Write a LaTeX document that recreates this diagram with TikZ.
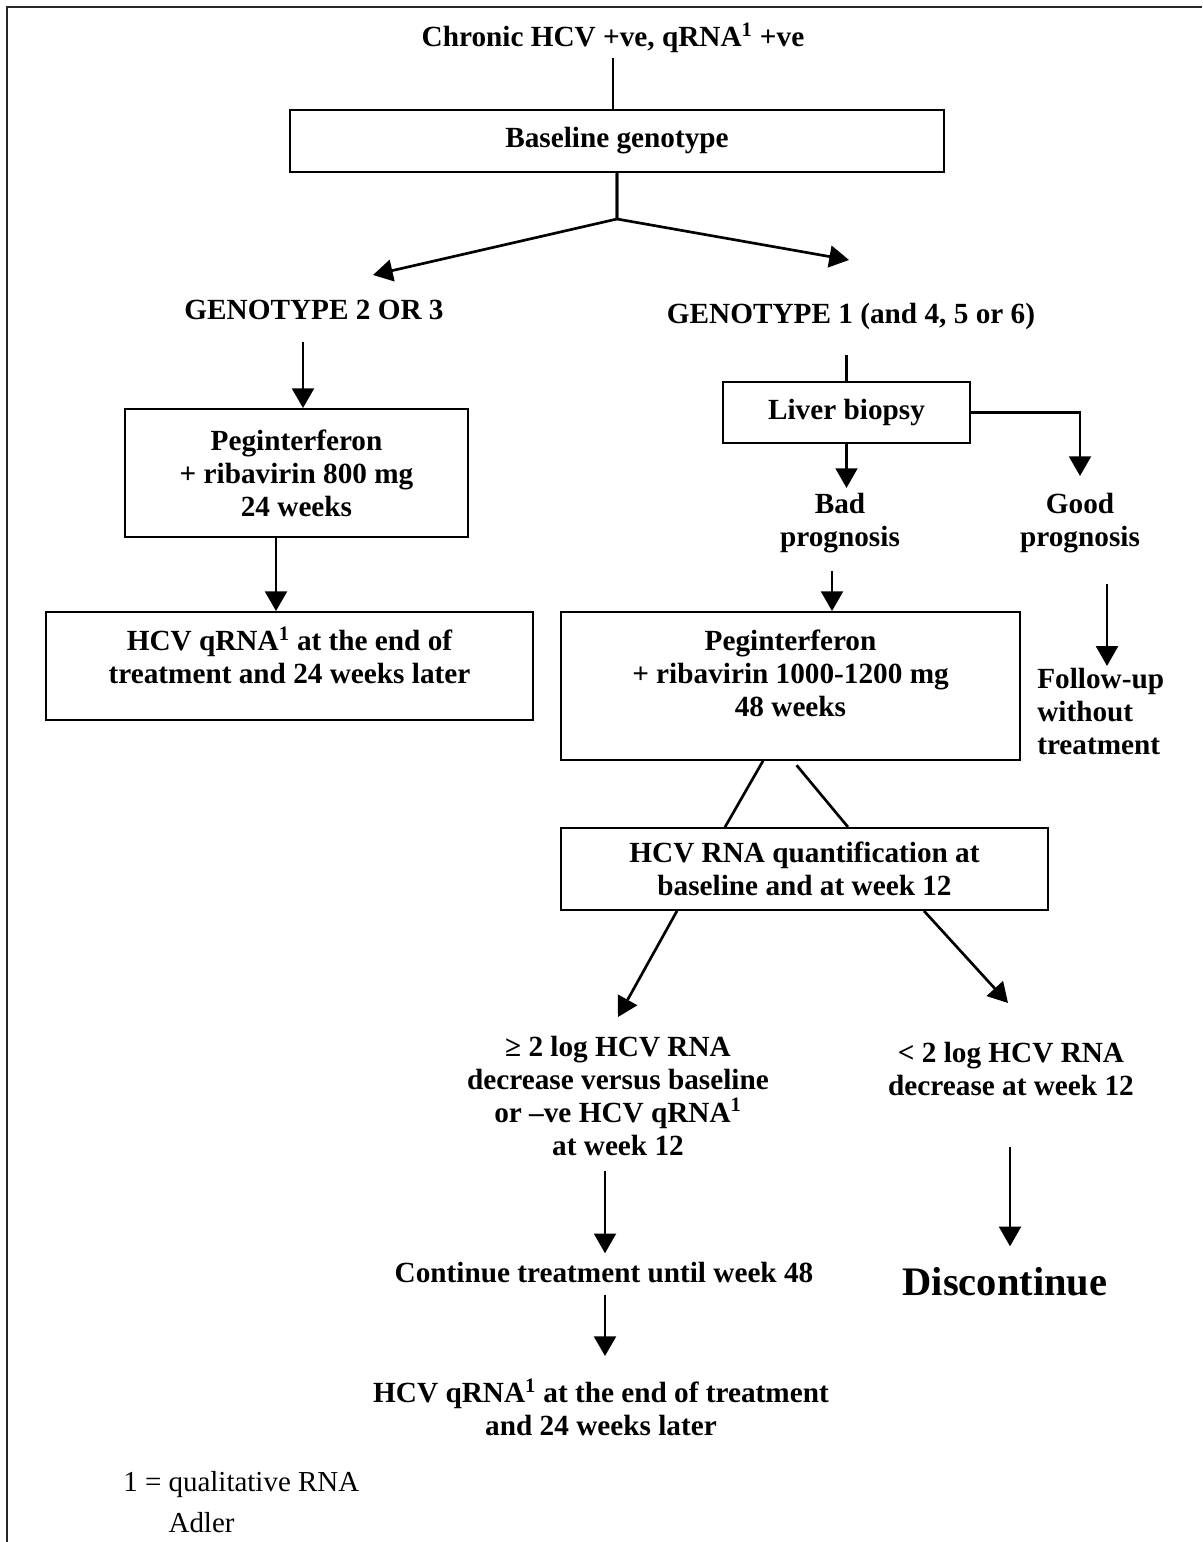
\documentclass[tikz,border=0pt]{standalone}
\usepackage{fontspec}
\setmainfont{Liberation Serif}
\usepackage{tikz}
\usetikzlibrary{arrows.meta}
\newlength{\pxUnit}
\setlength{\pxUnit}{0.025cm}

\begin{document}
\begin{tikzpicture}[x=0.025cm, y=-0.025cm,
	box/.style={draw, line width=1.3pt, align=center, inner sep=0pt, font=\fontsize{20.8}{23.4}\selectfont\bfseries},
	txt/.style={align=center, inner sep=0pt, font=\fontsize{20.8}{23.4}\selectfont\bfseries},
	link/.style={line width=1.9pt},
	arr/.style={line width=1.9pt, -{Triangle[length=14pt, width=15.5pt]}}]
			\useasboundingbox (0,0) rectangle (1202,1542);
			\draw[line width=2pt, black!85] (7,1542) -- (7,7) -- (1202,7);
			\node[txt] (title) at (613,38) {Chronic HCV +ve, qRNA\textsuperscript{1} +ve};
			\node[box, minimum width=654\pxUnit, minimum height=62\pxUnit] (base) at (617,141) {Baseline genotype};
			\coordinate (split) at (617,219);
			\coordinate (tipL) at (373,275);
			\coordinate (tipR) at (849,260);
			\node[txt] (geno23) at (314,310) {GENOTYPE 2 OR 3};
			\node[txt] (geno1) at (851,316) {GENOTYPE 1 (and 4, 5 or 6)};
			\node[box, minimum width=343\pxUnit, minimum height=128\pxUnit] (pegL) at (296.5,473) {Peginterferon\\+ ribavirin 800 mg\\24 weeks};
			\node[box, minimum width=487\pxUnit, minimum height=108\pxUnit, text depth=15.6pt] (endL) at (289.5,666) {HCV qRNA\textsuperscript{1} at the end of\\treatment and 24 weeks later};
			\node[box, minimum width=247\pxUnit, minimum height=61\pxUnit] (biopsy) at (846.5,412.5) {Liver biopsy};
			\node[txt] (bad) at (840,523) {Bad\\prognosis};
			\node[txt] (good) at (1080,523) {Good\\prognosis};
			\node[box, minimum width=459\pxUnit, minimum height=148\pxUnit, text depth=17.7pt] (pegR) at (790.5,686) {Peginterferon\\+ ribavirin 1000-1200 mg\\48 weeks};
			\node[txt, align=left, anchor=west] (follow) at (1037,711.5) {Follow-up\\without\\treatment};
			\node[box, minimum width=487\pxUnit, minimum height=82\pxUnit] (quant) at (804.5,869) {HCV RNA quantification at\\baseline and at week 12};
			\coordinate (tipGe) at (618,1017);
			\coordinate (tipLt) at (1008,1003);
			\node[txt] (ge2) at (618,1096) {≥ 2 log HCV RNA\\decrease versus baseline\\or –ve HCV qRNA\textsuperscript{1}\\at week 12};
			\node[txt] (lt2) at (1011,1069) {< 2 log HCV RNA\\decrease at week 12};
			\node[txt] (cont) at (604,1273) {Continue treatment until week 48};
			\node[txt] (endR) at (601,1407.5) {HCV qRNA\textsuperscript{1} at the end of treatment\\and 24 weeks later};
			\node[txt, font=\fontsize{28.8}{34}\selectfont\bfseries] (disc) at (1005,1282) {Discontinue};
			\node[align=left, inner sep=0pt, anchor=north west, font=\fontsize{20.6}{29}\selectfont] (note) at (123,1471) {1 = qualitative RNA\\\phantom{1 = }Adler};
			
			\draw[link, shorten <=3.5pt] (title.south) -- (title.south |- base.north);
			\draw[arr] (base.south) -- (split) -- (tipL);
			\draw[arr] (base.south) -- (split) -- (tipR);
			\draw[arr, shorten <=15.5pt] (geno23.south -| 303,0) -- (pegL.north -| 303,0);
			\draw[arr] (pegL.south -| 276,0) -- (endL.north -| 276,0);
			\draw[link, shorten <=18pt] (geno1.south -| biopsy.north) -- (biopsy.north);
			\draw[arr, shorten >=3.5pt] (biopsy.south) -- (biopsy.south |- bad.north);
			\draw[arr, shorten >=12pt] (biopsy.east) -| (good.north);
			\draw[arr, shorten <=13pt] (bad.south -| 832,0) -- (pegR.north -| 832,0);
			\draw[arr, shorten <=22pt, shorten >=1.5pt] (good.south -| 1107,0) -- (follow.north -| 1107,0);
			\draw[link] (pegR.south -| 763,0) -- (quant.north -| 725,0);
			\draw[link, shorten <=4pt] (pegR.south -| 793,0) -- (quant.north -| 848,0);
			\draw[arr] (quant.south -| 677,0) -- (tipGe);
			\draw[arr] (quant.south -| 924,0) -- (tipLt);
			\draw[arr, shorten <=11pt, shorten >=6.5pt] (ge2.south -| 605,0) -- (cont.north -| 605,0);
			\draw[arr, shorten <=7.8pt, shorten >=16pt] (cont.south -| 605,0) -- (endR.north -| 605,0);
			\draw[arr, shorten <=36pt, shorten >=15pt] (lt2.south -| 1010,0) -- (disc.north -| 1010,0);
		\end{tikzpicture}
\end{document}
